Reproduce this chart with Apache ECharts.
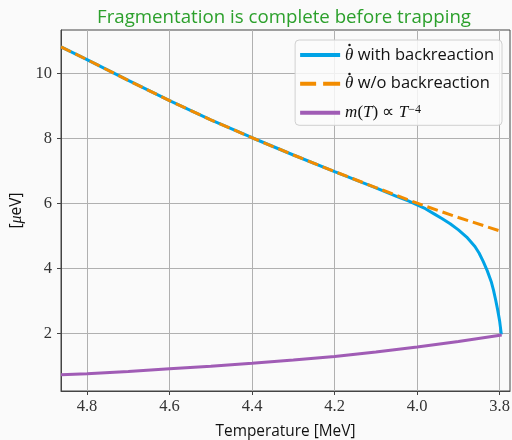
<!DOCTYPE html>
<html>
<head>
<meta charset="utf-8">
<script src="https://cdn.jsdelivr.net/npm/echarts@6/dist/echarts.min.js"></script>
<style>
html,body{margin:0;padding:0;background:#fafafa;}
#c{width:512px;height:440px;}
</style>
</head>
<body>
<div id="c"></div>
<script>
// ---- data ----
var titleText = 'Fragmentation is complete before trapping';
var xName = 'Temperature [MeV]';
var xTicks = [3.8, 4.0, 4.2, 4.4, 4.6, 4.8];
var yTicks = [2, 4, 6, 8, 10];

// theta-dot with backreaction
var withT = [4.863, 4.8, 4.7, 4.6, 4.5, 4.4, 4.3, 4.2, 4.1, 4.05, 4.02, 4.0, 3.98, 3.96, 3.94, 3.92, 3.90, 3.88, 3.86, 3.85, 3.84, 3.83, 3.82, 3.815, 3.81, 3.805, 3.80, 3.796];
var withV = [10.81, 10.42, 9.78, 9.16, 8.57, 8.02, 7.49, 6.98, 6.48, 6.22, 6.07, 5.96, 5.84, 5.69, 5.54, 5.38, 5.19, 4.97, 4.68, 4.48, 4.22, 3.93, 3.58, 3.34, 3.05, 2.74, 2.38, 1.98];

// theta-dot without backreaction
var woT = [4.863, 4.8, 4.7, 4.6, 4.5, 4.4, 4.3, 4.2, 4.1, 4.0, 3.9, 3.8];
var woV = [10.81, 10.42, 9.78, 9.16, 8.57, 8.02, 7.49, 6.98, 6.49, 6.01, 5.57, 5.16];

// m(T) ~ T^-4
var mT = [4.863, 4.8, 4.7, 4.6, 4.5, 4.4, 4.3, 4.2, 4.1, 4.0, 3.9, 3.795];
var mV = [0.74, 0.77, 0.84, 0.92, 1.00, 1.09, 1.19, 1.30, 1.44, 1.59, 1.76, 1.96];

function pairs(xs, ys){ return xs.map(function(x,i){ return [x, ys[i]]; }); }

var SANS = 'Open Sans';
var SERIF = 'Liberation Serif';

var chart = echarts.init(document.getElementById('c'), null, {renderer:'canvas'});
var legendRich = {
  t:{fontFamily:SERIF, fontStyle:'italic', fontSize:17, color:'#111', lineHeight:18},
  s:{fontFamily:SANS, fontSize:16.5, color:'#111', lineHeight:18},
  i:{fontFamily:SERIF, fontStyle:'italic', fontSize:17, color:'#111', lineHeight:18},
  r:{fontFamily:SERIF, fontSize:17, color:'#111', lineHeight:18},
  sup:{fontFamily:SERIF, fontSize:12, color:'#111', lineHeight:18, verticalAlign:'top'}
};
var legendLabels = {
  'with': '{t|θ}{s| with backreaction}',
  'wo': '{t|θ}{s| w/o backreaction}',
  'm': '{i|m}{r|(}{i|T}{r|) ∝ }{i|T}{sup|−4}'
};
var solidIcon = 'path://M0,0H40V4H0Z';
var dashIcon = 'path://M0,0H16V4H0Z M23,0H40V4H23Z';
chart.setOption({
  animation:false,
  backgroundColor:'#fafafa',
  title:{
    text:titleText, left:279, top:3, textAlign:'center',
    textStyle:{color:'#2ca02c', fontFamily:SANS, fontSize:18.7, fontWeight:'normal'}
  },
  grid:{left:61, right:2, top:30, bottom:49, show:true, borderColor:'#444', borderWidth:1, backgroundColor:'#fafafa',
    containLabel:false, outerBoundsMode:'none'},
  legend:{
    orient:'vertical', right:10, top:40,
    itemWidth:40, itemHeight:14, itemGap:11.6, symbolKeepAspect:true,
    padding:[6.6,8,4,5],
    borderColor:'#d0d0d0', borderWidth:1, borderRadius:4,
    backgroundColor:'rgba(250,250,250,0.85)',
    data:[{name:'with', icon:solidIcon},{name:'wo', icon:dashIcon},{name:'m', icon:solidIcon}],
    formatter:function(n){ return legendLabels[n]; },
    textStyle:{rich:legendRich, fontSize:16}
  },
  // accent dots of the two theta-dot legend entries
  graphic:[
    {type:'circle', shape:{cx:349.5, cy:45, r:1.25}, style:{fill:'#111'}, z:100},
    {type:'circle', shape:{cx:349.5, cy:74, r:1.25}, style:{fill:'#111'}, z:100}
  ],
  xAxis:{
    type:'value', inverse:true, min:3.775, max:4.863,
    name:xName, nameLocation:'middle', nameGap:33,
    nameTextStyle:{fontFamily:SANS, fontSize:15.4, color:'#111'},
    axisLine:{show:true, onZero:false, lineStyle:{color:'#444', width:1}},
    axisTick:{show:true, customValues:xTicks, length:4, lineStyle:{color:'#444'}},
    axisLabel:{customValues:xTicks, margin:7, fontFamily:SERIF, fontSize:16.5, color:'#333',
      formatter:function(v){ return Number(v).toFixed(1); }},
    splitLine:{show:true, customValues:xTicks, lineStyle:{color:'#b0b0b0', width:1}}
  },
  yAxis:{
    type:'value', min:0.24, max:11.33,
    name:'{b|[}{m|μ}{b|eV]}', nameLocation:'middle', nameGap:36,
    nameTextStyle:{rich:{b:{fontFamily:SANS, fontSize:15.5, color:'#111'}, m:{fontFamily:SERIF, fontStyle:'italic', fontSize:16, color:'#111'}}},
    axisLine:{show:true, onZero:false, lineStyle:{color:'#444', width:1}},
    axisTick:{show:true, customValues:yTicks, length:4, lineStyle:{color:'#444'}},
    axisLabel:{customValues:yTicks, margin:9, fontFamily:SERIF, fontSize:16.5, color:'#333'},
    splitLine:{show:true, customValues:yTicks, lineStyle:{color:'#b0b0b0', width:1}}
  },
  series:[
    {name:'with', type:'line', data:pairs(withT, withV), symbol:'none', smooth:false,
      color:'#00a3e6', lineStyle:{width:3, color:'#00a3e6'}, z:2},
    {name:'wo', type:'line', data:pairs(woT, woV), symbol:'none', smooth:false,
      color:'#f28c00', lineStyle:{width:3, color:'#f28c00', type:[11,5]}, z:3},
    {name:'m', type:'line', data:pairs(mT, mV), symbol:'none', smooth:false,
      color:'#a05cb5', lineStyle:{width:3, color:'#a05cb5'}, z:4}
  ]
});
</script>
</body>
</html>
